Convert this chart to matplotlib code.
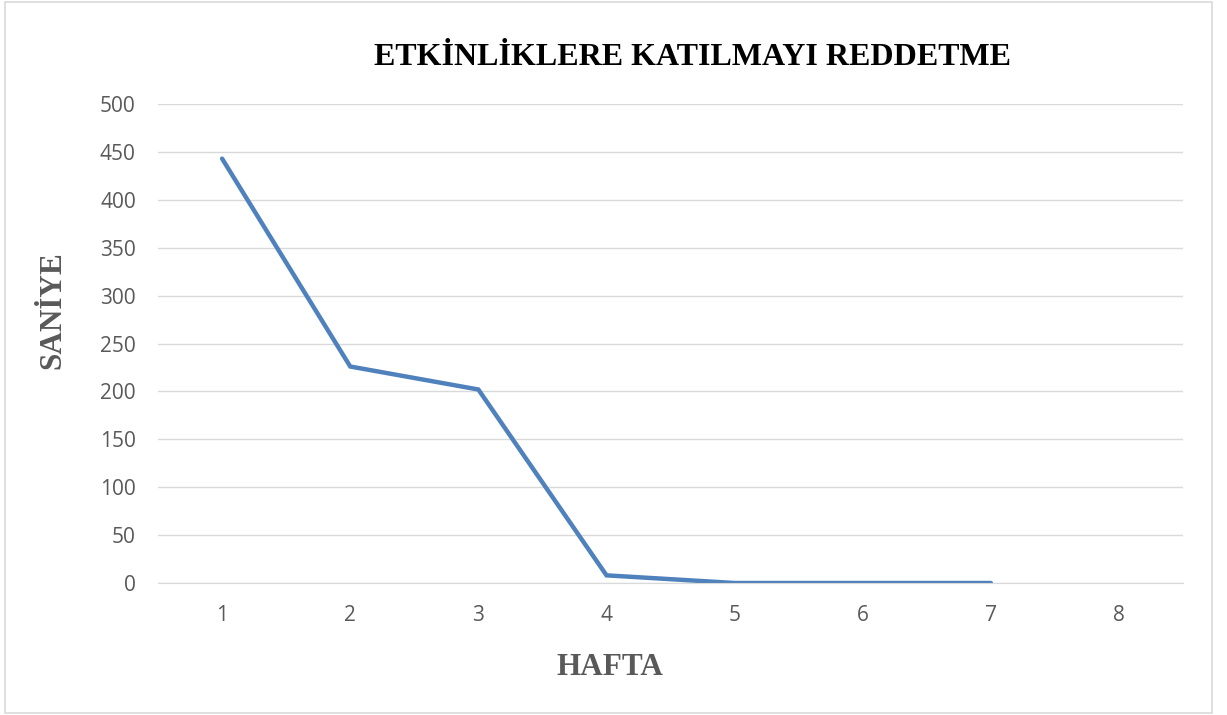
import matplotlib.pyplot as plt
from matplotlib.patches import Rectangle

weeks = ["1", "2", "3", "4", "5", "6", "7", "8"]
seconds = [443, 226, 202, 8, 0, 0, 0]

title = "ETKİNLİKLERE KATILMAYI REDDETME"
xlabel = "HAFTA"
ylabel = "SANİYE"

fig = plt.figure(figsize=(12.27, 7.15), dpi=100)
ax = fig.add_axes([0.1288, 0.1846, 0.8354, 0.6699])

x = list(range(len(weeks)))
ax.plot(x[:len(seconds)], seconds, color="#4F81BD", lw=3.2, solid_capstyle="round", solid_joinstyle="miter")

ax.set_xlim(-0.5, len(weeks) - 0.5)
ax.set_ylim(0, 500)
ax.set_xticks(x)
ax.set_xticklabels(weeks)
ax.set_yticks(range(0, 501, 50))
ax.grid(axis="y", color="#D9D9D9", lw=1)
ax.set_axisbelow(True)
for s in ["top", "right", "left"]:
    ax.spines[s].set_visible(False)
ax.spines["bottom"].set_color("#D9D9D9")
ax.tick_params(length=0, labelsize=15, labelcolor="#595959")
ax.tick_params(axis="y", pad=16)
ax.tick_params(axis="x", pad=16)
for lbl in ax.get_xticklabels() + ax.get_yticklabels():
    lbl.set_family("Open Sans")

fig.text(0.5644, 0.920, title, ha="center", va="center", fontsize=23,
         fontweight="bold", family="Liberation Serif", color="black")
fig.text(0.497, 0.067, xlabel, ha="center", va="center", fontsize=22.5,
         fontweight="bold", family="Liberation Serif", color="#595959")
fig.text(0.043, 0.566, ylabel, ha="center", va="center", fontsize=22.5, rotation=90,
         fontweight="bold", family="Liberation Serif", color="#595959")

fig.patches.append(Rectangle((0.004, 0.003), 0.984, 0.994, transform=fig.transFigure,
                             fill=False, edgecolor="#D9D9D9", lw=1.2))

fig.savefig("out.png", dpi=100, facecolor="white")
